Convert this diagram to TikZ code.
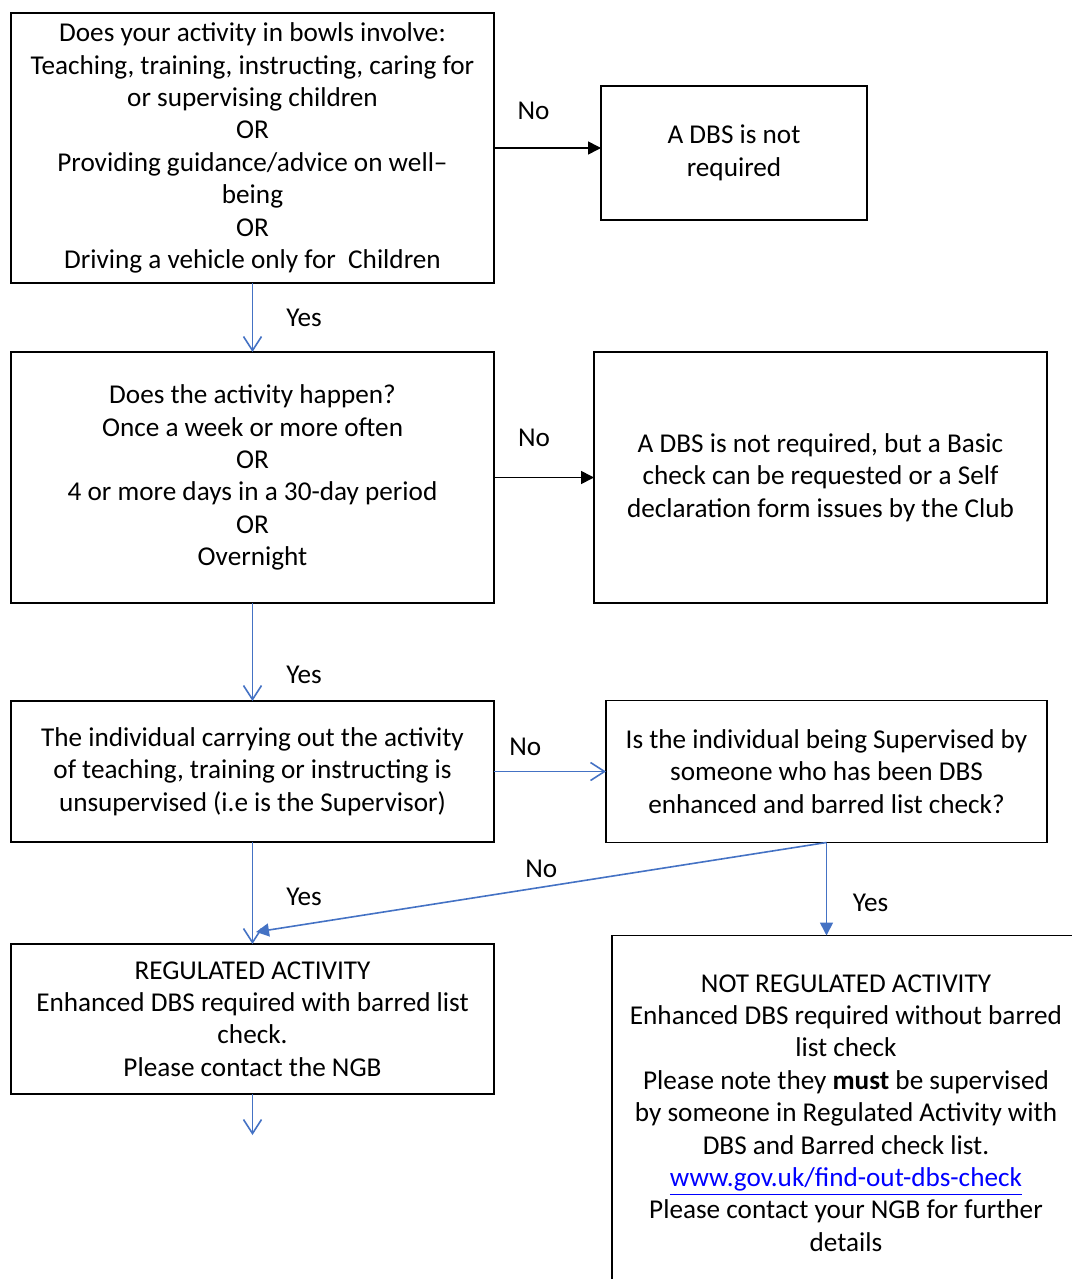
\documentclass[tikz,border=0pt]{standalone}
\usepackage{fontspec}
\setmainfont{Carlito}
\usetikzlibrary{arrows.meta,positioning}
\definecolor{flowblue}{RGB}{68,114,196}
\definecolor{urlblue}{RGB}{0,0,255}
\tikzset{
    %Define standard arrow tips
    open tip/.style={-{Straight Barb[length=7pt,width=9pt]}},
    solid tip/.style={-{Triangle[length=6.5pt,width=6.5pt]}},
    %Define style for boxes
    block/.style={
           rectangle,
           draw=black,
           line width=0.9pt,
           align=center,
           inner sep=0pt,
           outer sep=0pt},
    % Define arrow styles
    arrow/.style={
           draw=black,
           line width=0.8pt},
    bluearrow/.style={
           draw=flowblue,
           line width=0.8pt},
    % Define style for yes/no labels
    answer/.style={anchor=center, inner sep=1pt}
}
\begin{document}
\begin{tikzpicture}[x=0.5pt, y=-0.5pt, font=\fontsize{13.6}{16.2}\selectfont]
    \useasboundingbox (0,0) rectangle (1071,1279);
    % left column
    \node [block, minimum width=241.5pt, minimum height=135pt] (involve) at (252.5,148)
        {Does your activity in bowls involve:\\Teaching, training, instructing, caring for\\or supervising children\\OR\\Providing guidance/advice on well–\\being\\OR\\Driving a vehicle only for \ Children};
    \node [block, minimum width=241.5pt, minimum height=125.5pt, below=34.5pt of involve] (often)
        {Does the activity happen?\\Once a week or more often\\OR\\4 or more days in a 30-day period\\OR\\Overnight};
    \node [block, minimum width=241.5pt, minimum height=70.5pt, below=49pt of often] (unsup)
        {The individual carrying out the activity\\of teaching, training or instructing is\\unsupervised (i.e is the Supervisor)};
    \node [block, minimum width=241.5pt, minimum height=75pt, below=51pt of unsup] (regulated)
        {REGULATED ACTIVITY\\Enhanced DBS required with barred list\\check.\\Please contact the NGB};
    % right column
    \node [block, minimum width=133pt, minimum height=67pt, right=53.5pt of involve, yshift=-2.5pt] (noDBS)
        {A DBS is not\\required};
    \node [block, minimum width=226.5pt, minimum height=125.5pt, right=50pt of often] (basic)
        {A DBS is not required, but a Basic\\check can be requested or a Self\\declaration form issues by the Club};
    \node [block, minimum width=220.5pt, minimum height=71pt, right=56pt of unsup] (supervised)
        {Is the individual being Supervised by\\someone who has been DBS\\enhanced and barred list check?};
    \node [block, minimum width=234pt, minimum height=177.5pt, below=46.5pt of supervised, xshift=9.75pt] (notreg)
        {NOT REGULATED ACTIVITY\\Enhanced DBS required without barred\\list check\\Please note they \textbf{must} be supervised\\by someone in Regulated Activity with\\DBS and Barred check list.\\\textcolor{urlblue}{\underline{www.gov.uk/find-out-dbs-check}}\\Please contact your NGB for further\\details};
    \coordinate [below=20.5pt of regulated] (regout);

    % No branches
    \draw [arrow, solid tip] (involve.east) -- (involve.east -| noDBS.west)
        node [answer, pos=0.37, yshift=18.5pt] (noInvolve) {No};
    \draw [arrow, solid tip] (often.east) -- (basic.west)
        node [answer, pos=0.4, yshift=20pt] (noOften) {No};
    \draw [bluearrow, open tip] (unsup.east) -- (supervised.west)
        node [answer, pos=0.28, yshift=12.5pt] (noUnsup) {No};
    \draw [bluearrow, solid tip] (supervised.south) -- ([shift={(1.75pt,6pt)}]regulated.north)
        node [answer, pos=0.5, yshift=9pt] (noSupervised) {No};
    % Yes branches
    \draw [bluearrow, open tip] (involve.south) -- (often.north)
        node [answer, pos=0.5, xshift=25.75pt] (yesInvolve) {Yes};
    \draw [bluearrow, open tip] (often.south) -- (unsup.north)
        node [answer, pos=0.73, xshift=25.75pt] (yesOften) {Yes};
    \draw [bluearrow, open tip] (unsup.south) -- (regulated.north)
        node [answer, pos=0.54, xshift=25.75pt] (yesUnsup) {Yes};
    \draw [bluearrow, solid tip] (supervised.south) -- (supervised.south |- notreg.north)
        node [answer, pos=0.65, xshift=22pt] (yesSupervised) {Yes};
    \draw [bluearrow, open tip] (regulated.south) -- (regout);
\end{tikzpicture}
\end{document}
